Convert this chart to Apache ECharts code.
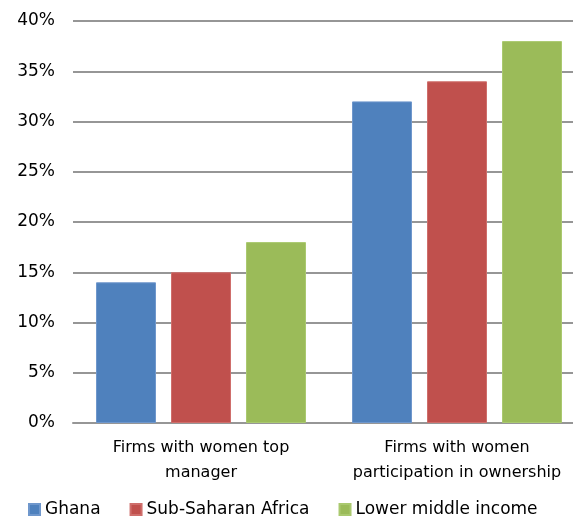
<!DOCTYPE html>
<html>
<head>
<meta charset="utf-8">
<script src="https://cdn.jsdelivr.net/npm/echarts@6/dist/echarts.min.js"></script>
<style>
  html, body { margin: 0; padding: 0; background: #fff; overflow: hidden; }
  /* plot area runs past the right edge of the page */
  #chart { width: 586px; height: 517px; }
</style>
</head>
<body>
<div id="chart"></div>
<script>
// Share of firms (%) by indicator and economy group
const categories = [
  'Firms with women top\nmanager',
  'Firms with women\nparticipation in ownership'
];
const ghana = [14, 32];
const subSaharanAfrica = [15, 34];
const lowerMiddleIncome = [18, 38];
const seriesNames = ['Ghana', 'Sub-Saharan Africa', 'Lower middle income'];
const yTicks = { min: 0, max: 40, step: 5 };

const colors = ['#4f81bd', '#c0504d', '#9bbb59'];
const borders = ['#6f97cc', '#cf6e6b', '#aac96f'];
const font = 'DejaVu Sans';

const chart = echarts.init(document.getElementById('chart'), null, { renderer: 'canvas' });

const makeSeries = (name, data, i) => ({
  name: name,
  type: 'bar',
  data: data,
  barWidth: 60,
  barGap: '25%',
  itemStyle: { color: colors[i], borderColor: borders[i], borderWidth: 1 },
  emphasis: { disabled: true }
});

chart.setOption({
  animation: false,
  color: colors,
  grid: { left: 73, top: 21, right: 1, height: 402 },
  legend: {
    left: 28,
    top: 501,
    padding: 0,
    itemWidth: 11,
    itemHeight: 11,
    itemGap: 29,
    icon: 'rect',
    data: seriesNames,
    textStyle: { fontFamily: font, fontSize: 17, color: '#000' }
  },
  xAxis: {
    type: 'category',
    data: categories,
    axisLine: { show: true, lineStyle: { color: '#969696', width: 2 } },
    axisTick: { show: false },
    axisLabel: {
      margin: 12,
      fontFamily: font,
      fontSize: 16,
      lineHeight: 25,
      color: '#000',
      interval: 0
    }
  },
  yAxis: {
    type: 'value',
    min: yTicks.min,
    max: yTicks.max,
    interval: yTicks.step,
    axisLine: { show: false },
    axisTick: { show: false },
    splitLine: { lineStyle: { color: '#969696', width: 2 } },
    axisLabel: {
      formatter: '{value}%',
      margin: 18,
      fontFamily: font,
      fontSize: 17,
      color: '#000'
    }
  },
  series: [
    makeSeries(seriesNames[0], ghana, 0),
    makeSeries(seriesNames[1], subSaharanAfrica, 1),
    makeSeries(seriesNames[2], lowerMiddleIncome, 2)
  ]
});
</script>
</body>
</html>
